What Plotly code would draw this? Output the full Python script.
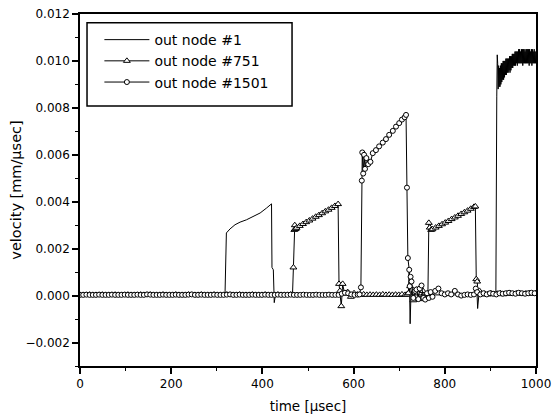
import plotly.graph_objects as go

# ---------------- data ----------------
# time in microseconds, velocity in mm/usec

t_node1 = [0, 318, 321, 329, 340, 351, 365, 380, 395, 409,
           420, 421, 424, 426, 429, 435, 720, 722, 724, 726,
           730, 868, 870, 872, 875, 878, 912, 914, 915,
           916, 917, 918, 919, 920, 921, 922, 923, 924, 925,
           926, 927, 928, 929, 930, 931, 932, 933, 934, 935,
           936, 937, 938, 939, 940, 941, 942, 943, 944, 945,
           946, 947, 948, 949, 950, 951, 952, 953, 954, 955,
           956, 957, 958, 959, 960, 961, 962, 963, 964, 965,
           966, 967, 968, 969, 970, 971, 972, 973, 974, 975,
           976, 977, 978, 979, 980, 981, 982, 983, 984, 985,
           986, 987, 988, 989, 990, 991, 992, 993, 994, 995,
           996, 997, 998, 999, 1000]
v_node1 = [0.00003, 0.00003, 0.00267, 0.00284, 0.00302, 0.00313, 0.00323, 0.00337, 0.00352, 0.00373,
           0.00391, 0.0012, 0.0011, -0.0003, 0.0001, 0.00003, 0.00003, 0.0011, -0.0012, 0.0002,
           0.00003, 0.00003, 0.0004, -0.00055, 0.0001, 0.00003, 0.00003, 0.0085, 0.01026,
           0.0099, 0.0088, 0.0098, 0.0089, 0.0097, 0.0089, 0.0098, 0.0090, 0.0099, 0.0091,
           0.0099, 0.0092, 0.0100, 0.0092, 0.0100, 0.0093, 0.0100, 0.0094, 0.0101, 0.0094,
           0.0101, 0.0095, 0.0101, 0.0095, 0.0101, 0.0096, 0.0102, 0.0095, 0.0102, 0.0096,
           0.0102, 0.0097, 0.0103, 0.0097, 0.0103, 0.0098, 0.0103, 0.0098, 0.0104, 0.0098,
           0.0104, 0.0099, 0.0104, 0.0098, 0.0104, 0.0099, 0.0105, 0.0099, 0.0105, 0.0099,
           0.0104, 0.0099, 0.0105, 0.0099, 0.0105, 0.0098, 0.0105, 0.0099, 0.0105, 0.0099,
           0.0104, 0.0099, 0.0105, 0.0099, 0.0105, 0.0099, 0.0105, 0.0099, 0.0105, 0.0098,
           0.0105, 0.0099, 0.0104, 0.0099, 0.0105, 0.0098, 0.0105, 0.0099, 0.0104, 0.0099,
           0.0105, 0.0099, 0.0104, 0.0099, 0.0104]

t_node751 = [0, 7, 14, 21, 28, 35, 42, 49, 56, 63,
             70, 77, 84, 91, 98, 105, 112, 119, 126, 133,
             140, 147, 154, 161, 168, 175, 182, 189, 196, 203,
             210, 217, 224, 231, 238, 245, 252, 259, 266, 273,
             280, 287, 294, 301, 308, 315, 322, 329, 336, 343,
             350, 357, 364, 371, 378, 385, 392, 399, 406, 413,
             420, 427, 434, 441, 448, 455, 462, 466, 468, 470,
             471, 473, 475, 482, 489, 496, 503, 510, 517, 524,
             531, 538, 545, 552, 559, 566, 568, 570, 573, 576,
             580, 587, 594, 601, 608, 615, 622, 629, 636, 643,
             650, 657, 664, 671, 678, 685, 692, 699, 706, 713,
             717, 720, 724, 731, 738, 745, 752, 759, 763, 765,
             767, 770, 773, 780, 787, 794, 801, 808, 815, 822,
             829, 836, 843, 850, 857, 864, 867, 869, 871, 873,
             876, 880, 887, 894, 901, 908, 915, 922, 929, 936,
             943, 950, 957, 964, 971, 978, 985, 992, 999]
v_node751 = [0.00003, 0.00003, 0.00003, 0.00004, 0.00003, 0.00003, 0.00003, 0.00004, 0.00003, 0.00003,
             0.00003, 0.00004, 0.00003, 0.00003, 0.00003, 0.00004, 0.00003, 0.00003, 0.00003, 0.00004,
             0.00003, 0.00003, 0.00004, 0.00003, 0.00003, 0.00003, 0.00004, 0.00003, 0.00003, 0.00003,
             0.00004, 0.00003, 0.00003, 0.00003, 0.00004, 0.00003, 0.00003, 0.00003, 0.00004, 0.00003,
             0.00003, 0.00003, 0.00004, 0.00003, 0.00003, 0.00003, 0.00004, 0.00003, 0.00003, 0.00003,
             0.00004, 0.00003, 0.00003, 0.00003, 0.00004, 0.00003, 0.00003, 0.00003, 0.00004, 0.00003,
             0.00003, 0.00003, 0.00004, 0.00003, 0.00003, 0.00003, 0.00004, 0.00005, 0.0012, 0.0028,
             0.0030, 0.00284, 0.00289, 0.00297, 0.00305, 0.00313, 0.00320, 0.00328, 0.00336, 0.00343,
             0.00351, 0.00359, 0.00366, 0.00374, 0.00382, 0.00390, 0.0005, 0.0002, -0.00045, 0.0005,
             0.0001, 0.00015, -0.00005, 0.0001, 0.00004, 0.00003, 0.00005, 0.00003, 0.00004, 0.00003,
             0.00004, 0.00003, 0.00005, 0.00003, 0.00004, 0.00003, 0.00004, 0.00003, 0.00005, 0.00003,
             0.00004, 0.0001, 0.0004, -0.0002, 0.00025, -0.00015, 0.0002, -0.0001, 0.0001, 0.0031,
             0.0029, 0.0028, 0.00283, 0.00290, 0.00297, 0.00304, 0.00311, 0.00318, 0.00326, 0.00333,
             0.00340, 0.00348, 0.00355, 0.00362, 0.00370, 0.00378, 0.0038, 0.0007, 0.0006, 0.0001,
             0.0002, 0.00005, 0.00008, 0.00005, 0.0001, 0.00006, 0.00008, 0.0001, 0.00006, 0.00008,
             0.0001, 0.00007, 0.00009, 0.0001, 0.00007, 0.00009, 0.0001, 0.00008, 0.0001]

t_node1501 = [0, 7, 14, 21, 28, 35, 42, 49, 56, 63,
              70, 77, 84, 91, 98, 105, 112, 119, 126, 133,
              140, 147, 154, 161, 168, 175, 182, 189, 196, 203,
              210, 217, 224, 231, 238, 245, 252, 259, 266, 273,
              280, 287, 294, 301, 308, 315, 322, 329, 336, 343,
              350, 357, 364, 371, 378, 385, 392, 399, 406, 413,
              420, 427, 434, 441, 448, 455, 462, 469, 476, 483,
              490, 497, 504, 511, 518, 525, 532, 539, 546, 553,
              560, 567, 574, 581, 588, 595, 602, 609, 613, 616,
              618, 619, 621, 623, 625, 628, 632, 637, 642, 649,
              656, 664, 671, 678, 686, 693, 700, 706, 712, 715,
              717, 719, 722, 723, 725, 727, 731, 735, 738, 742,
              745, 749, 753, 757, 761, 765, 769, 773, 779, 786,
              793, 800, 807, 814, 822, 829, 836, 843, 850, 857,
              864, 868, 871, 878, 885, 892, 899, 906, 913, 920,
              927, 934, 941, 948, 955, 962, 969, 976, 983, 990,
              997]
v_node1501 = [0.00003, 0.00003, 0.00004, 0.00003, 0.00003, 0.00003, 0.00004, 0.00003, 0.00003, 0.00003,
              0.00004, 0.00003, 0.00003, 0.00003, 0.00004, 0.00003, 0.00003, 0.00003, 0.00004, 0.00003,
              0.00003, 0.00005, 0.00004, 0.00003, 0.00003, 0.00003, 0.00004, 0.00003, 0.00003, 0.00003,
              0.00004, 0.00003, 0.00003, 0.00003, 0.00004, 0.00005, 0.00003, 0.00003, 0.00004, 0.00003,
              0.00003, 0.00003, 0.00004, 0.00003, 0.00003, 0.00003, 0.00004, 0.00005, 0.00003, 0.00003,
              0.00004, 0.00003, 0.00003, 0.00003, 0.00004, 0.00003, 0.00003, 0.00003, 0.00004, 0.00003,
              0.00003, 0.00003, 0.00004, 0.00003, 0.00003, 0.00003, 0.00004, 0.00003, 0.00003, 0.00003,
              0.00004, 0.00003, 0.00003, 0.00003, 0.00004, 0.00003, 0.00003, 0.00003, 0.00004, 0.00003,
              0.00003, 0.00003, 0.00008, 0.00012, 0.0001, 0.00005, 0.00003, 0.00004, 0.00005, 0.00035,
              0.0049, 0.0061, 0.0052, 0.0060, 0.0054, 0.00586, 0.0056, 0.0057, 0.00607, 0.0062,
              0.00636, 0.00652, 0.00667, 0.00685, 0.00702, 0.0072, 0.00735, 0.0075, 0.0076, 0.0077,
              0.0046, 0.0016, 0.0011, 0.0004, 0.0008, 0.0006, -0.0001, 0.0002, 0.00026, -0.00015,
              0.0003, 0.00043, -0.0001, -0.00017, 0.0001, -0.0001, 0.00015, -0.00005, 0.0002, 0.0003,
              0.0001, 0.00005, 0.0001, 0.00005, 0.0002, 0.00005, 0.0, 0.00003, 0.00005, 0.00003,
              0.00005, 0.0003, 0.00015, 0.00005, 0.0001, 0.00005, 0.0001, 0.00008, 0.00005, 0.0001,
              0.00008, 0.0001, 0.00012, 0.0001, 0.00008, 0.00012, 0.0001, 0.00008, 0.0001, 0.00012,
              0.0001]

series_names = ["out node #1", "out node #751", "out node #1501"]
x_tick_values = [0, 200, 400, 600, 800, 1000]
y_tick_values = [-0.002, 0.000, 0.002, 0.004, 0.006, 0.008, 0.010, 0.012]
x_title = "time [\u00b5sec]"
y_title = "velocity [mm/\u00b5sec]"

assert len(t_node1) == len(v_node1)
assert len(t_node751) == len(v_node751)
assert len(t_node1501) == len(v_node1501)

FONT = "DejaVu Sans"

fig = go.Figure()
fig.add_trace(go.Scatter(
    x=t_node1, y=v_node1, mode="lines", name=series_names[0],
    line=dict(color="black", width=1)))
fig.add_trace(go.Scatter(
    x=t_node751, y=v_node751, mode="lines+markers", name=series_names[1],
    line=dict(color="black", width=1),
    marker=dict(symbol="triangle-up", size=6, color="white",
                line=dict(color="black", width=1))))
fig.add_trace(go.Scatter(
    x=t_node1501, y=v_node1501, mode="lines+markers", name=series_names[2],
    line=dict(color="black", width=1),
    marker=dict(symbol="circle", size=5, color="white",
                line=dict(color="black", width=1))))

axis_common = dict(
    showgrid=False, zeroline=False, showline=True, linecolor="black",
    linewidth=1.5, mirror=True, ticks="outside", ticklen=6, tickwidth=1.5,
    tickcolor="black", tickfont=dict(family=FONT, size=12, color="black"),
    automargin=False,
)

fig.update_xaxes(
    range=[0, 1000], tickvals=x_tick_values,
    minor=dict(dtick=100, ticks="outside", ticklen=3, tickcolor="black", tickwidth=1),
    title=dict(text=x_title, font=dict(family=FONT, size=13.5, color="black"), standoff=11),
    **axis_common)
fig.update_yaxes(
    range=[-0.003, 0.012], tickvals=y_tick_values, tickformat=".3f",
    minor=dict(dtick=0.001, ticks="outside", ticklen=3, tickcolor="black", tickwidth=1),
    title=dict(text=y_title, font=dict(family=FONT, size=14.5, color="black"), standoff=0),
    **axis_common)

# legend frame (drawn as a box behind the transparent legend)
fig.add_shape(type="rect", xref="paper", yref="paper",
              x0=0.0154, x1=0.465, y0=0.7386, y1=0.9753,
              line=dict(color="black", width=1.5), fillcolor="white", layer="above")

fig.update_layout(
    width=552, height=415,
    margin=dict(l=80, r=16, t=14, b=49),
    paper_bgcolor="white", plot_bgcolor="white",
    font=dict(family=FONT, color="black"),
    showlegend=True,
    legend=dict(
        x=0.0425, y=0.9715, xanchor="left", yanchor="top",
        bgcolor="rgba(0,0,0,0)", borderwidth=0,
        font=dict(family=FONT, size=14, color="black"),
        itemwidth=45, tracegroupgap=0,
    ),
)

fig.write_html("out.html")
